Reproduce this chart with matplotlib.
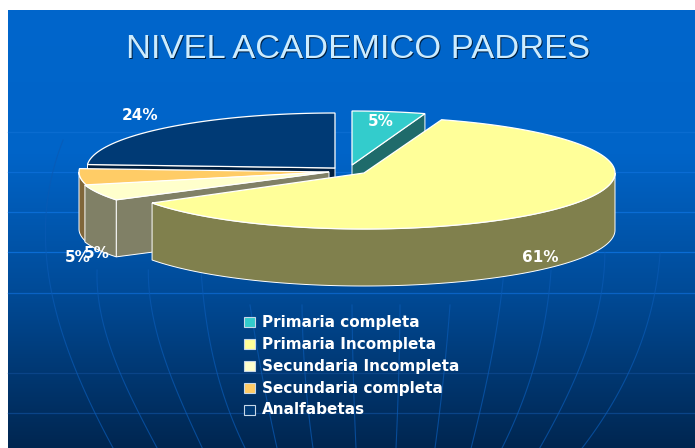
import numpy as np
import matplotlib
matplotlib.use("Agg")
import matplotlib.pyplot as plt
from matplotlib.colors import LinearSegmentedColormap
from matplotlib.patches import Polygon, Rectangle

# Data
categories = ["Primaria completa", "Primaria Incompleta", "Secundaria Incompleta",
              "Secundaria completa", "Analfabetas"]
values = [5, 61, 5, 5, 24]

# Colours of the top faces and of the walls
top_colors = ["#33CCCC", "#FFFF99", "#FFFFCC", "#FFCC66", "#003A75"]
side_colors = ["#1F6B6B", "#80804D", "#808066", "#80663A", "#001F40"]

# Pie geometry in pixels (each slice is pulled out to its own apex)
apex_x = [352, 364, 329, 329, 335]
apex_y = [165, 173, 172, 172, 168]
radius_x = [236, 251, 252, 250, 248]
radius_y = [54, 56, 52, 54, 55]
depth = 57

fig = plt.figure(figsize=(6.95, 4.48), dpi=100, facecolor="white")
ax = fig.add_axes([0, 0, 1, 1])
ax.axis("off")

# Background gradient
grad = LinearSegmentedColormap.from_list("bg", [(0, "#0066CC"), (0.33, "#0064C8"),
                                                (0.65, "#004A96"), (1, "#002650")], N=1024)
ax.imshow(np.linspace(0, 1, 1024).reshape(-1, 1), cmap=grad, extent=[8, 695, 448, 10],
          aspect="auto", zorder=0, interpolation="bilinear")
ax.set_xlim(0, 695)
ax.set_ylim(448, 0)

# Globe lines on the background
for gy, col in [(132, "#0A6CD0"), (172, "#0A6CD4"), (212, "#0A6CD4"), (252, "#0A6CD4"),
                (293, "#0A62C4"), (373, "#0A4488"), (413, "#0A4488")]:
    ax.plot([8, 695], [gy, gy], color=col, lw=0.9, zorder=1)

meridians = [
    [(63, 140), (47, 212), (45, 250), (52, 293), (77, 373), (95, 413), (113, 448)],
    [(97, 270), (98, 293), (120, 373), (139, 413), (157, 448)],
    [(148, 270), (150, 293), (169, 373), (187, 413), (202, 448)],
    [(201, 270), (203, 293), (217, 373), (230, 413), (245, 448)],
    [(250, 305), (272, 425), (277, 448)],
    [(302, 305), (310, 425), (313, 448)],
    [(352, 305), (355, 425), (356, 448)],
    [(400, 305), (397, 425), (396, 448)],
    [(450, 305), (438, 425), (435, 448)],
    [(503, 278), (502, 293), (488, 373), (480, 413), (471, 448)],
    [(551, 270), (549, 293), (532, 373), (518, 413), (502, 448)],
    [(605, 253), (601, 293), (578, 373), (558, 413), (540, 448)],
    [(660, 253), (655, 293), (628, 373), (607, 413), (582, 448)],
]
for m in meridians:
    mx, my = zip(*m)
    # smooth the read points into a curve
    fit = np.polyfit(my, mx, min(len(m) - 1, 3))
    yy = np.linspace(my[0], my[-1], 60)
    ax.plot(np.polyval(fit, yy), yy, color="#0A5AB4", lw=0.8, alpha=0.7, zorder=1)


def rim(i, a0, a1):
    # clockwise angles from 12 o'clock
    t = np.radians(np.linspace(a0, a1, max(int(a1 - a0) * 2, 2)))
    return np.column_stack([apex_x[i] + radius_x[i] * np.sin(t),
                            apex_y[i] - radius_y[i] * np.cos(t)])


def wall(pts, color, z):
    down = pts[::-1] + [0, depth]
    ax.add_patch(Polygon(np.vstack([pts, down]), closed=True, fc=color, ec="white",
                         lw=0.7, zorder=z))


# Slice angles from the values
edges = np.concatenate([[0], np.cumsum(values)]) * 360 / sum(values)

# Painter order: back slices first, front slices last
for i, z in zip([4, 0, 3, 2, 1], range(3, 30, 5)):
    a0, a1 = edges[i], edges[i + 1]
    apex = np.array([[apex_x[i], apex_y[i]]])
    # radial wall that faces the viewer
    if i == 0:
        wall(np.vstack([apex, rim(i, a1, a1 + 1)[:1]]), side_colors[i], z)
    if i in (2, 4):
        wall(np.vstack([apex, rim(i, a0, a0 + 1)[:1]]), side_colors[i], z)
    # outer wall, only the part facing the viewer
    lo, hi = max(a0, 90), min(a1, 270)
    if hi > lo:
        wall(rim(i, lo, hi), side_colors[i], z + 1)
    ax.add_patch(Polygon(np.vstack([apex, rim(i, a0, a1)]), closed=True,
                         fc=top_colors[i], ec="white", lw=0.9, zorder=z + 2))

# Percent labels
label_x = [381, 540, 97, 78, 140]
label_y = [122, 257, 253, 257, 115]
for v, lx, ly in zip(values, label_x, label_y):
    ax.text(lx, ly, f"{v}%", color="white", fontsize=11, fontweight="bold",
            family="DejaVu Sans", ha="center", va="center", zorder=40)

# Title with dark shadow
ax.text(359.5, 50.5, "NIVEL ACADEMICO PADRES", color="#001F40", fontsize=24.8,
        family="Liberation Sans", ha="center", va="center", zorder=40)
ax.text(358.5, 49.5, "NIVEL ACADEMICO PADRES", color="#CCECFF", fontsize=24.8,
        family="Liberation Sans", ha="center", va="center", zorder=41)

# Legend
for i, (name, ly) in enumerate(zip(categories, [322, 344, 366, 388, 410])):
    ax.add_patch(Rectangle((244, ly - 5), 11, 10, fc=top_colors[i], ec="#C8D8E8", lw=0.8, zorder=40))
    ax.text(262, ly, name, color="white", fontsize=11, fontweight="bold",
            family="DejaVu Sans", ha="left", va="center", zorder=40)

fig.savefig("out.png", dpi=100, facecolor="white")
